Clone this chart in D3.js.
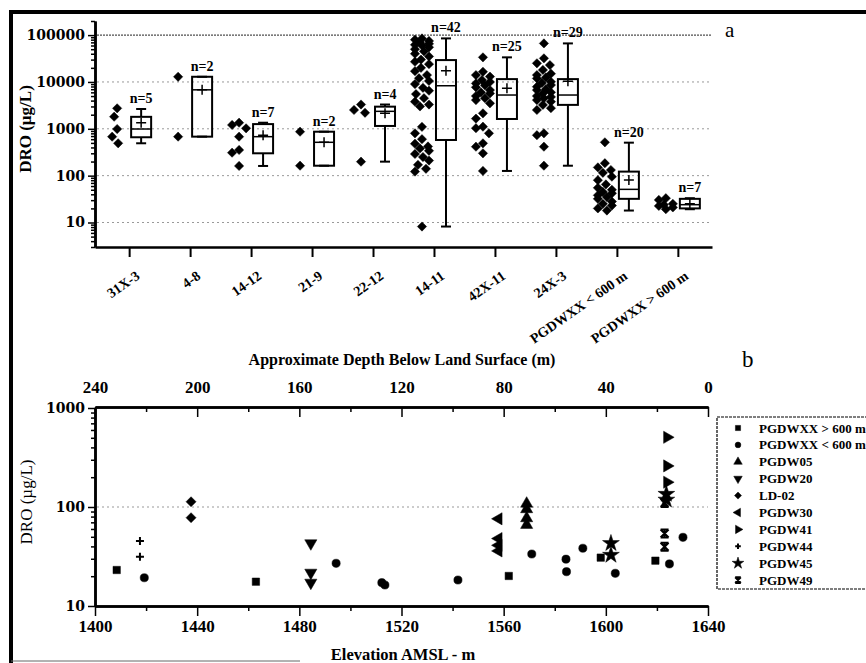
<!DOCTYPE html>
<html>
<head>
<meta charset="utf-8">
<script src="https://cdn.jsdelivr.net/npm/d3@7"></script>
<style>
body { margin: 0; background: #fff; }
svg { display: block; font-family: "Liberation Serif", "Times New Roman", serif; font-weight: bold; }
.axis path, .axis line { stroke: #000; }
</style>
</head>
<body>
<svg id="chart" width="866" height="663"></svg>
<script>
// ---- panel a : DRO by well, points + box plots ----
var catsA = ['31X-3', '4-8', '14-12', '21-9', '22-12', '14-11', '42X-11', '24X-3', 'PGDWXX < 600 m', 'PGDWXX > 600 m'];
var countsA = [5, 2, 7, 2, 4, 42, 25, 29, 20, 7];
var pointsA = [
  [491, 679, 990, 1811, 2735],
  [12900, 680],
  [1349, 1206, 1023, 679, 309, 353, 161],
  [867, 163],
  [2520, 3300, 2200, 199],
  [85000, 80000, 75000, 70000, 65000, 62000, 60000, 55000, 50000, 45000, 40000, 35000, 30000, 27000,
   24000, 20000, 17000, 14000, 12000, 10500, 9000, 7500, 6500, 5500, 4500, 3800, 3300, 3000,
   1100, 800, 600, 480, 420, 380, 340, 290, 250, 210, 170, 140, 122, 8.2],
  [33500, 16500, 14000, 13000, 11000, 10000, 9300, 8500, 7700, 6700, 6000, 5700, 5000, 4500, 4100,
   3500, 2140, 1650, 1110, 1030, 800, 490, 415, 300, 126],
  [66500, 31900, 25000, 22900, 18000, 15000, 14000, 12500, 11900, 10100, 9500, 8600, 7900, 7000, 6700,
   6000, 5700, 5000, 4800, 4500, 4100, 3800, 3240, 2760, 2520, 800, 730, 415, 163],
  [515, 184, 150, 132, 115, 95, 80, 65, 55, 50, 45, 42, 38, 35, 32, 28, 25, 23, 20, 18],
  [19.2, 22.6, 21, 30.3, 33, 25, 24]
];
var whiskerLowA  = [491, 680, 161, 163, 199, 8.2, 126, 163, 18, 19.2];
var q1A          = [660, 680, 300, 163, 1150, 577, 1620, 3240, 32, 20];
var medianA      = [990, 6790, 679, 515, 2360, 8300, 5260, 5260, 51, 24];
var q3A          = [1800, 12900, 1260, 867, 2970, 29300, 11500, 11500, 122, 32];
var whiskerHighA = [2650, 12900, 1349, 867, 3300, 85000, 33500, 66500, 506, 33];
var meanA        = [1340, 6790, 726, 515, 2140, 17300, 7300, 10400, 81, 25];
var majorTicksA = [10, 100, 1000, 10000, 100000];

// ---- panel b : DRO vs elevation ----
var pgdwGt600 = [[1408.5, 23.1], [1463, 17.6], [1562, 20.1], [1598, 30.8], [1619.4, 28.7]];
var pgdwLt600 = [[1419.3, 19.3], [1494.4, 27], [1512.3, 17.2], [1513.5, 16.3], [1542.1, 18.3], [1571, 33.5],
                 [1584.4, 29.7], [1584.6, 22.2], [1591, 38.3], [1603.7, 21.4], [1624.9, 26.6], [1630.2, 49.4]];
var pgdw05 = [[1569, 108], [1569, 95], [1569, 77], [1569, 66]];
var pgdw20 = [[1484.5, 43], [1484.5, 21.7], [1484.5, 17.2]];
var ld02   = [[1437.6, 113], [1437.6, 78]];
var pgdw30 = [[1558, 76], [1558, 48], [1558, 41], [1558, 36]];
var pgdw41 = [[1624, 506], [1624, 260], [1624, 178]];
var pgdw44 = [[1417.6, 45.4], [1417.6, 31.5]];
var pgdw45 = [[1602, 43], [1602, 32.7], [1623.7, 135], [1623.7, 118]];
var pgdw49 = [[1623, 110], [1623, 54], [1623, 39.7]];
var seriesNames = ['PGDWXX > 600 m', 'PGDWXX < 600 m', 'PGDW05', 'PGDW20', 'LD-02', 'PGDW30', 'PGDW41', 'PGDW44', 'PGDW45', 'PGDW49'];
var seriesData = [pgdwGt600, pgdwLt600, pgdw05, pgdw20, ld02, pgdw30, pgdw41, pgdw44, pgdw45, pgdw49];
var seriesShape = ['square', 'circle', 'up', 'down', 'diamond', 'left', 'right', 'plus', 'star', 'asterisk'];

var svg = d3.select('#chart');

// figure frame (thick lines top and left, as in the scan)
svg.append('line').attr('x1', 9).attr('y1', 12).attr('x2', 866).attr('y2', 12).attr('stroke', '#000').attr('stroke-width', 4);
svg.append('line').attr('x1', 11).attr('y1', 10).attr('x2', 11).attr('y2', 663).attr('stroke', '#000').attr('stroke-width', 4);
svg.append('line').attr('x1', 11).attr('y1', 661).attr('x2', 300).attr('y2', 661).attr('stroke', '#666').attr('stroke-width', 1);

function minorTicks(lo, hi) {
  var out = [];
  for (var e = Math.floor(Math.log10(lo)); e <= Math.ceil(Math.log10(hi)); e++) {
    for (var k = 2; k <= 9; k++) {
      var v = k * Math.pow(10, e);
      if (v >= lo && v <= hi) out.push(v);
    }
  }
  return out;
}

// let axis text inherit the serif font from the svg
function plainAxis(sel) {
  sel.attr('font-family', null).attr('font-size', null);
  sel.selectAll('text').attr('fill', '#000');
  return sel;
}

function symbolPath(shape, r) {
  var sym = d3.symbol();
  if (shape == 'square') return sym.type(d3.symbolSquare).size(r * r * 3.4)();
  if (shape == 'circle') return sym.type(d3.symbolCircle).size(r * r * 3.3)();
  if (shape == 'diamond') return 'M0,' + (-r * 1.25) + 'L' + (r * 1.25) + ',0L0,' + (r * 1.25) + 'L' + (-r * 1.25) + ',0Z';
  if (shape == 'star') return sym.type(d3.symbolStar).size(r * r * 5.5)();
  if (shape == 'plus') return 'M' + (-r) + ',0H' + r + 'M0,' + (-r) + 'V' + r;
  if (shape == 'asterisk') return 'M' + (-r) + ',' + (-r) + 'L' + r + ',' + r + 'M' + r + ',' + (-r) + 'L' + (-r) + ',' + r +
    'M' + (-r) + ',' + (-r) + 'H' + r + 'M' + (-r) + ',' + r + 'H' + r + 'M0,' + (-r) + 'V' + r;
  return sym.type(d3.symbolTriangle).size(r * r * 4)();
}
var shapeRot = { up: 0, down: 180, left: -90, right: 90 };

function drawSymbol(g, shape, x, y, r) {
  var stroked = (shape == 'plus' || shape == 'asterisk');
  g.append('path')
    .attr('d', symbolPath(shape, r))
    .attr('transform', 'translate(' + x + ',' + y + ') rotate(' + (shapeRot[shape] || 0) + ')')
    .attr('fill', stroked ? 'none' : '#000')
    .attr('stroke', '#000')
    .attr('stroke-width', stroked ? 2 : 0.5);
}

// ================= panel a =================
var xA = d3.scalePoint().domain(catsA).range([95, 712]).padding(0.56);
var yA = d3.scaleLog().domain([3, 200000]).range([247, 21]);
var gA = svg.append('g');

gA.selectAll('.gridA').data(majorTicksA).enter().append('line')
  .attr('x1', 97).attr('x2', 712)
  .attr('y1', function(d) { return yA(d); }).attr('y2', function(d) { return yA(d); })
  .attr('stroke', function(d) { return d == 100000 ? '#222' : '#999'; })
  .attr('stroke-width', 1)
  .attr('stroke-dasharray', function(d) { return d == 100000 ? '2,1' : '2,3'; });

var yAxisA = gA.append('g').attr('class', 'axis').attr('transform', 'translate(95,0)')
  .call(d3.axisLeft(yA).tickValues(majorTicksA).tickFormat(d3.format('d')).tickSize(7).tickSizeOuter(0).tickPadding(3));
gA.append('g').attr('class', 'axis').attr('transform', 'translate(95,0)')
  .call(d3.axisLeft(yA).tickValues(minorTicks(3, 200000)).tickFormat('').tickSize(4).tickSizeOuter(0));
gA.selectAll('.axis path').attr('stroke-width', 2.5);
gA.selectAll('.axis line').attr('stroke-width', 1.5);
plainAxis(yAxisA).selectAll('text').attr('font-size', 14).attr('font-family', '"DejaVu Serif", serif');

var xAxisA = gA.append('g').attr('class', 'axis').attr('transform', 'translate(0,247)')
  .call(d3.axisBottom(xA).tickSize(10).tickSizeOuter(0));
xAxisA.select('path').attr('stroke-width', 2.5);
xAxisA.selectAll('line').attr('stroke-width', 2);
plainAxis(xAxisA).selectAll('text')
  .attr('font-size', 14)
  .attr('text-anchor', 'end')
  .attr('x', 0).attr('y', 0).attr('dy', 0)
  .attr('transform', 'translate(11,31) rotate(-35)');

function swarm(vals, cx) {
  var placed = [];
  var pts = vals.map(function(v) { return { v: v, y: yA(v) }; }).sort(function(a, b) { return a.y - b.y; });
  pts.forEach(function(p) {
    var best = 0, bestScore = Infinity;
    for (var off = -7; off <= 7; off++) {
      var s = Math.abs(off) * 0.15;
      placed.forEach(function(q) {
        var d = Math.hypot(q.x - (cx + off), q.y - p.y);
        if (d < 9) s += 9 - d;
      });
      if (s < bestScore) { bestScore = s; best = off; }
    }
    p.x = cx + best;
    placed.push(p);
  });
  return placed;
}

catsA.forEach(function(c, i) {
  var tx = xA(c);
  var g = gA.append('g');
  swarm(pointsA[i], tx - 12).forEach(function(p) { drawSymbol(g, 'diamond', p.x, p.y, 3.7); });

  var bx = tx + 12, bw = 20;
  g.append('line').attr('x1', bx).attr('x2', bx).attr('y1', yA(whiskerHighA[i])).attr('y2', yA(q3A[i])).attr('stroke', '#000').attr('stroke-width', 2);
  g.append('line').attr('x1', bx).attr('x2', bx).attr('y1', yA(q1A[i])).attr('y2', yA(whiskerLowA[i])).attr('stroke', '#000').attr('stroke-width', 2);
  [whiskerHighA[i], whiskerLowA[i]].forEach(function(v) {
    g.append('line').attr('x1', bx - 5).attr('x2', bx + 5).attr('y1', yA(v)).attr('y2', yA(v)).attr('stroke', '#000').attr('stroke-width', 2);
  });
  g.append('rect').attr('x', bx - bw / 2).attr('width', bw)
    .attr('y', yA(q3A[i])).attr('height', Math.max(2, yA(q1A[i]) - yA(q3A[i])))
    .attr('fill', 'none').attr('stroke', '#000').attr('stroke-width', 2);
  g.append('line').attr('x1', bx - bw / 2).attr('x2', bx + bw / 2).attr('y1', yA(medianA[i])).attr('y2', yA(medianA[i])).attr('stroke', '#000').attr('stroke-width', 1.5);
  g.append('path').attr('d', 'M' + (bx - 5) + ',' + yA(meanA[i]) + 'h10M' + bx + ',' + (yA(meanA[i]) - 5) + 'v10')
    .attr('stroke', '#000').attr('stroke-width', 1.5);

  g.append('text').attr('x', bx).attr('y', yA(whiskerHighA[i]) - 6)
    .attr('text-anchor', 'middle').attr('font-size', 14).text('n=' + countsA[i]);
});

gA.append('text').attr('transform', 'translate(31,129) rotate(-90)')
  .attr('text-anchor', 'middle').attr('font-size', 17).text('DRO (\u00b5g/L)');
gA.append('text').attr('x', 725).attr('y', 37).attr('font-size', 21).attr('font-weight', 'normal').text('a');

// ================= panel b =================
var xB = d3.scaleLinear().domain([1400, 1640]).range([95, 708]);
var depthB = d3.scaleLinear().domain([240, 0]).range([95, 708]);
var yB = d3.scaleLog().domain([10, 1000]).range([606, 408]);
var gB = svg.append('g');

gB.append('line').attr('x1', 97).attr('x2', 708).attr('y1', yB(100)).attr('y2', yB(100))
  .attr('stroke', '#999').attr('stroke-dasharray', '2,3');

var xAxisB = gB.append('g').attr('class', 'axis').attr('transform', 'translate(0,606)')
  .call(d3.axisBottom(xB).tickValues(d3.range(1400, 1641, 40)).tickFormat(d3.format('d')).tickSize(10).tickSizeOuter(0).tickPadding(4));
gB.append('g').attr('class', 'axis').attr('transform', 'translate(0,606)')
  .call(d3.axisBottom(xB).tickValues(d3.range(1420, 1640, 40)).tickFormat('').tickSize(5).tickSizeOuter(0));
var topAxisB = gB.append('g').attr('class', 'axis').attr('transform', 'translate(0,407)')
  .call(d3.axisTop(depthB).tickValues(d3.range(0, 241, 40)).tickFormat(d3.format('d')).tickSize(-10).tickSizeOuter(0).tickPadding(14));
gB.append('g').attr('class', 'axis').attr('transform', 'translate(0,407)')
  .call(d3.axisTop(depthB).tickValues(d3.range(20, 240, 40)).tickFormat('').tickSize(-5).tickSizeOuter(0));
var yAxisB = gB.append('g').attr('class', 'axis').attr('transform', 'translate(95,0)')
  .call(d3.axisLeft(yB).tickValues([10, 100, 1000]).tickFormat(d3.format('d')).tickSize(7).tickSizeOuter(0).tickPadding(3));
gB.append('g').attr('class', 'axis').attr('transform', 'translate(95,0)')
  .call(d3.axisLeft(yB).tickValues(minorTicks(10, 1000)).tickFormat('').tickSize(4).tickSizeOuter(0));
gB.selectAll('.axis path').attr('stroke-width', 2.5);
gB.selectAll('.axis line').attr('stroke-width', 1.5);
plainAxis(xAxisB).selectAll('text').attr('font-size', 17);
plainAxis(topAxisB).selectAll('text').attr('font-size', 17);
plainAxis(yAxisB).selectAll('text').attr('font-size', 14).attr('font-family', '"DejaVu Serif", serif');

seriesData.forEach(function(data, s) {
  var g = gB.append('g');
  data.forEach(function(d) { drawSymbol(g, seriesShape[s], xB(d[0]), yB(d[1]), 4); });
});

gB.append('text').attr('x', 402).attr('y', 365).attr('text-anchor', 'middle').attr('font-size', 16)
  .text('Approximate Depth Below Land Surface (m)');
gB.append('text').attr('x', 403).attr('y', 660).attr('text-anchor', 'middle').attr('font-size', 16.5)
  .text('Elevation AMSL - m');
gB.append('text').attr('transform', 'translate(32,502) rotate(-90)')
  .attr('text-anchor', 'middle').attr('font-size', 17).attr('font-weight', 'normal').text('DRO (\u00b5g/L)');
gB.append('text').attr('x', 742).attr('y', 367).attr('font-size', 23).attr('font-weight', 'normal').text('b');

// legend
var leg = gB.append('g');
leg.append('rect').attr('x', 717).attr('y', 417).attr('width', 200).attr('height', 172)
  .attr('fill', 'none').attr('stroke', '#000').attr('stroke-width', 1.2).attr('stroke-dasharray', '3,1');
seriesNames.forEach(function(name, s) {
  var y = 428 + s * 16.9;
  drawSymbol(leg, seriesShape[s], 738, y, 2.8);
  leg.append('text').attr('x', 759).attr('y', y).attr('dy', '0.35em').attr('font-size', 13).text(name);
});
</script>
</body>
</html>
